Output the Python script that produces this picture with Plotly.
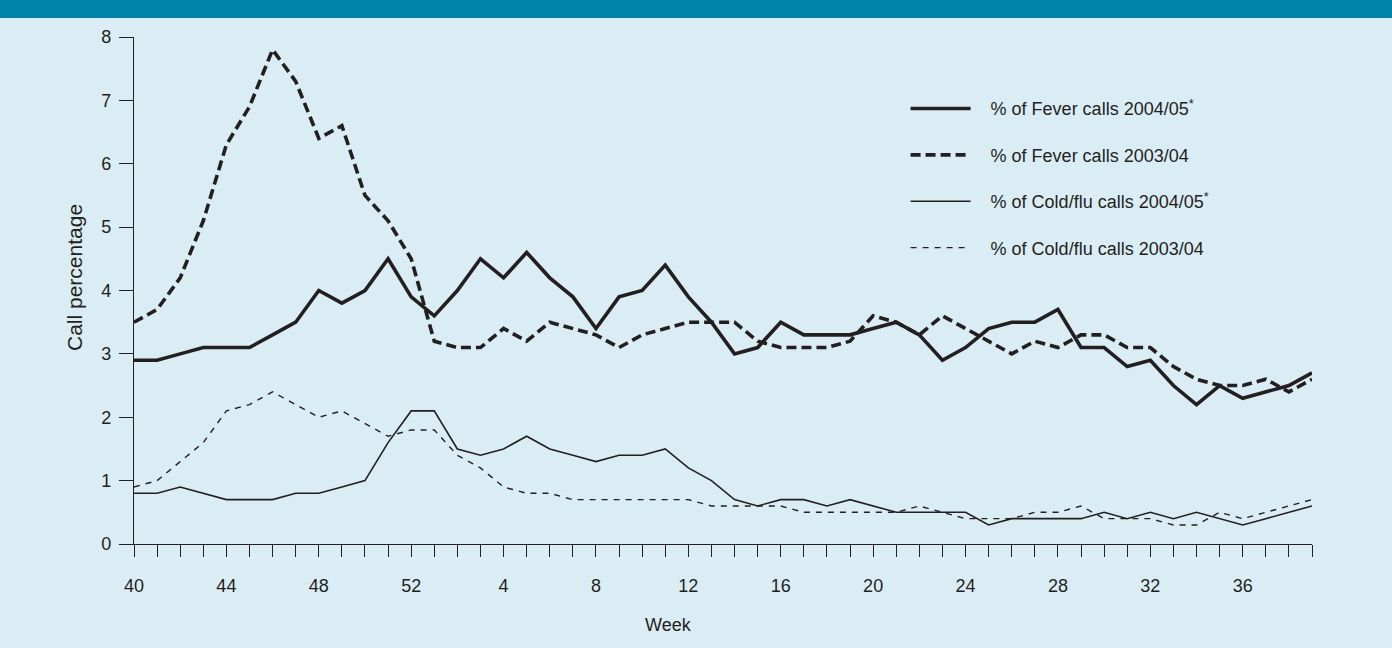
import plotly.graph_objects as go

weeks = [str(w) for w in list(range(40, 53)) + list(range(1, 40))]

fever_0405 = [2.9, 2.9, 3.0, 3.1, 3.1, 3.1, 3.3, 3.5, 4.0, 3.8, 4.0, 4.5, 3.9,
              3.6, 4.0, 4.5, 4.2, 4.6, 4.2, 3.9, 3.4, 3.9, 4.0, 4.4, 3.9, 3.5, 3.0,
              3.1, 3.5, 3.3, 3.3, 3.3, 3.4, 3.5, 3.3, 2.9, 3.1, 3.4, 3.5, 3.5, 3.7,
              3.1, 3.1, 2.8, 2.9, 2.5, 2.2, 2.5, 2.3, 2.4, 2.5, 2.7]

fever_0304 = [3.5, 3.7, 4.2, 5.1, 6.3, 6.9, 7.8, 7.3, 6.4, 6.6, 5.5, 5.1, 4.5,
              3.2, 3.1, 3.1, 3.4, 3.2, 3.5, 3.4, 3.3, 3.1, 3.3, 3.4, 3.5, 3.5, 3.5,
              3.2, 3.1, 3.1, 3.1, 3.2, 3.6, 3.5, 3.3, 3.6, 3.4, 3.2, 3.0, 3.2, 3.1,
              3.3, 3.3, 3.1, 3.1, 2.8, 2.6, 2.5, 2.5, 2.6, 2.4, 2.6]

cold_0405 = [0.8, 0.8, 0.9, 0.8, 0.7, 0.7, 0.7, 0.8, 0.8, 0.9, 1.0, 1.6, 2.1,
             2.1, 1.5, 1.4, 1.5, 1.7, 1.5, 1.4, 1.3, 1.4, 1.4, 1.5, 1.2, 1.0, 0.7,
             0.6, 0.7, 0.7, 0.6, 0.7, 0.6, 0.5, 0.5, 0.5, 0.5, 0.3, 0.4, 0.4, 0.4,
             0.4, 0.5, 0.4, 0.5, 0.4, 0.5, 0.4, 0.3, 0.4, 0.5, 0.6]

cold_0304 = [0.9, 1.0, 1.3, 1.6, 2.1, 2.2, 2.4, 2.2, 2.0, 2.1, 1.9, 1.7, 1.8,
             1.8, 1.4, 1.2, 0.9, 0.8, 0.8, 0.7, 0.7, 0.7, 0.7, 0.7, 0.7, 0.6, 0.6,
             0.6, 0.6, 0.5, 0.5, 0.5, 0.5, 0.5, 0.6, 0.5, 0.4, 0.4, 0.4, 0.5, 0.5,
             0.6, 0.4, 0.4, 0.4, 0.3, 0.3, 0.5, 0.4, 0.5, 0.6, 0.7]

tick_labels = [w if i % 4 == 0 else " " for i, w in enumerate(weeks)]
y_ticks = [0, 1, 2, 3, 4, 5, 6, 7, 8]

INK = "#231F20"
BG = "#DBEDF4"
BAND = "#0083AA"
FONT = "Liberation Sans, Arial, sans-serif"
PAD = "\u00a0\u00a0\u00a0"

series = [
    ("% of Fever calls 2004/05<sup>*</sup>", fever_0405, 3.6, "solid"),
    ("% of Fever calls 2003/04", fever_0304, 3.6, "10px,5px"),
    ("% of Cold/flu calls 2004/05<sup>*</sup>", cold_0405, 1.6, "solid"),
    ("% of Cold/flu calls 2003/04", cold_0304, 1.4, "6px,6px"),
]

fig = go.Figure()
for i, (name, vals, w, dash) in enumerate(series):
    fig.add_trace(go.Scatter(
        x=weeks, y=vals, mode="lines", name=PAD + name, legendgroup=f"g{i}",
        line=dict(color=INK, width=w, dash=dash),
    ))

fig.update_layout(
    width=1392, height=648,
    margin=dict(l=134, r=80, t=37, b=104),
    paper_bgcolor=BG, plot_bgcolor=BG,
    font=dict(family=FONT, color=INK, size=18),
    showlegend=True,
    legend=dict(
        x=0.655, y=0.895, xanchor="left", yanchor="top",
        bgcolor="rgba(0,0,0,0)", font=dict(size=18, family=FONT, color=INK),
        tracegroupgap=20, itemwidth=60,
    ),
    xaxis=dict(
        type="category", categoryorder="array", categoryarray=weeks,
        range=[0, len(weeks) - 1],
        tickmode="array", tickvals=weeks, ticktext=tick_labels,
        ticks="outside", ticklen=12, tickwidth=1.3, tickcolor=INK,
        showline=True, linecolor=INK, linewidth=1.3,
        showgrid=False, zeroline=False,
        tickfont=dict(size=18, family=FONT, color=INK),
        ticklabelstandoff=13,
    ),
    yaxis=dict(
        range=[0, 8], tickmode="array", tickvals=y_ticks,
        ticks="outside", ticklen=14, tickwidth=1.3, tickcolor=INK,
        showline=True, linecolor=INK, linewidth=1.3,
        showgrid=False, zeroline=False,
        tickfont=dict(size=18, family=FONT, color=INK),
        ticklabelstandoff=4,
    ),
    annotations=[
        dict(text="Week", xref="paper", yref="paper",
             x=(668 - 134) / 1178, y=(544 - 625) / 507,
             xanchor="center", yanchor="middle", showarrow=False,
             font=dict(size=18, family=FONT, color=INK)),
        dict(text="Call percentage", xref="paper", yref="paper",
             x=(74 - 134) / 1178, y=(544 - 278) / 507, textangle=-90,
             xanchor="center", yanchor="middle", showarrow=False,
             font=dict(size=21, family=FONT, color=INK)),
    ],
    shapes=[dict(type="rect", xref="paper", yref="paper",
                 x0=-0.2, x1=1.2, y0=1 + 19 / 507, y1=1.2,
                 fillcolor=BAND, line=dict(width=0), layer="above")],
)

fig.write_html("out.html", config={"displayModeBar": False},
               post_script="document.body.style.margin='0';")
